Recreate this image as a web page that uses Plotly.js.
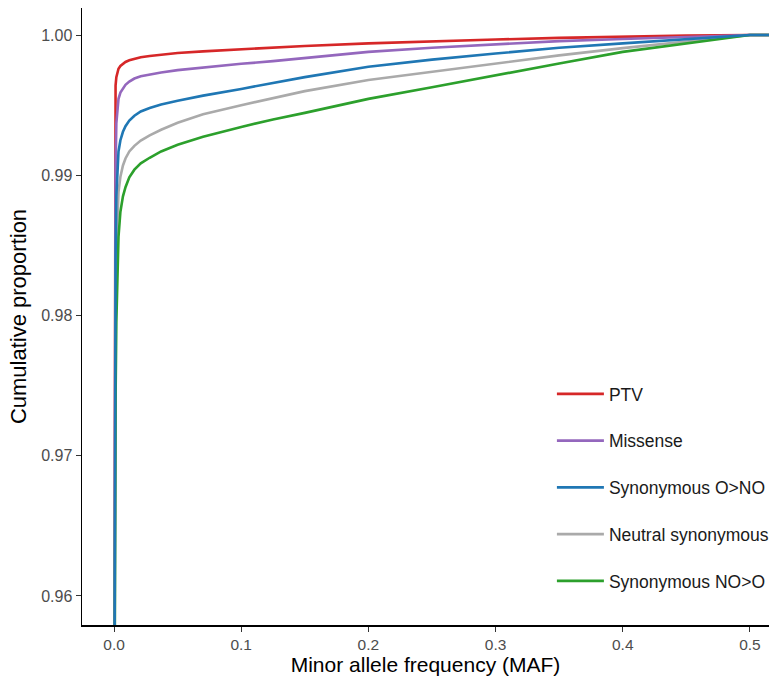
<!DOCTYPE html>
<html>
<head>
<meta charset="utf-8">
<script src="https://cdn.plot.ly/plotly-3.0.1.min.js"></script>
<style>html,body{margin:0;padding:0;background:#fff;}#chart{width:769px;height:676px;}</style>
</head>
<body>
<div id="chart"></div>
<script>
// Minor allele frequency grid (x) and cumulative proportions per class
const maf = [0, 0.0004, 0.0008, 0.0012, 0.0018, 0.0025, 0.0035, 0.005, 0.007, 0.009, 0.012, 0.016, 0.021, 0.028, 0.037, 0.05, 0.07, 0.1, 0.125, 0.15, 0.2, 0.25, 0.3, 0.35, 0.4, 0.45, 0.5, 0.56];

const seriesNames = ["PTV", "Missense", "Synonymous O>NO", "Neutral synonymous", "Synonymous NO>O"];
const seriesColors = ["#d62728", "#9467bd", "#1f77b4", "#aaaaaa", "#2ca02c"];

const ptv      = [0.94, 0.975, 0.9950, 0.99640, 0.99700, 0.99735, 0.99760, 0.99780, 0.99796, 0.99808, 0.99820, 0.99832, 0.99842, 0.99851, 0.99860, 0.99872, 0.99884, 0.99898, 0.99912, 0.99922, 0.99941, 0.99957, 0.99968, 0.99980, 0.99990, 0.99996, 1.0, 1.0];
const missense = [0.94, 0.965, 0.984, 0.9905, 0.99370, 0.99480, 0.99545, 0.99590, 0.99622, 0.99645, 0.99668, 0.99690, 0.99706, 0.99720, 0.99733, 0.99750, 0.99770, 0.99795, 0.99814, 0.99836, 0.99880, 0.99910, 0.99936, 0.99957, 0.99972, 0.99986, 1.0, 1.0];
const synONO   = [0.94, 0.962, 0.977, 0.9840, 0.98850, 0.99050, 0.99170, 0.99250, 0.99310, 0.99350, 0.99390, 0.99425, 0.99455, 0.99480, 0.99505, 0.99532, 0.99568, 0.99616, 0.99658, 0.99700, 0.99774, 0.99825, 0.99868, 0.99910, 0.99941, 0.99969, 1.0, 1.0];
const neutral  = [0.94, 0.958, 0.973, 0.9800, 0.98450, 0.98720, 0.98880, 0.98990, 0.99070, 0.99120, 0.99170, 0.99210, 0.99248, 0.99285, 0.99325, 0.99375, 0.99435, 0.99500, 0.99552, 0.99600, 0.99680, 0.99740, 0.99798, 0.99855, 0.99907, 0.99951, 1.0, 1.0];
const synNOO   = [0.94, 0.955, 0.966, 0.9740, 0.97950, 0.98300, 0.98560, 0.98740, 0.98850, 0.98915, 0.98985, 0.99040, 0.99085, 0.99125, 0.99170, 0.99218, 0.99275, 0.99345, 0.99398, 0.99445, 0.99545, 0.99628, 0.99710, 0.99797, 0.99880, 0.99940, 1.0, 1.0];

const seriesValues = [ptv, missense, synONO, neutral, synNOO];
const drawOrder = [0, 1, 3, 4, 2];

const traces = drawOrder.map(i => ({
  type: "scatter",
  mode: "lines",
  x: maf,
  y: seriesValues[i],
  name: seriesNames[i],
  legendgroup: "g" + i,
  legendrank: i + 1,
  line: {color: seriesColors[i], width: 2.6},
  hoverinfo: "skip"
}));

const layout = {
  width: 769, height: 676,
  margin: {l: 82, r: 0, t: 8, b: 51, autoexpand: false},
  paper_bgcolor: "#ffffff",
  plot_bgcolor: "#ffffff",
  font: {family: "Liberation Sans, Arial, sans-serif", color: "#1a1a1a"},
  showlegend: true,
  legend: {
    x: 0.684, y: 0.4036, xanchor: "left", yanchor: "top",
    bgcolor: "rgba(0,0,0,0)",
    font: {size: 17.5, color: "#1a1a1a"},
    tracegroupgap: 21,
    itemwidth: 47
  },
  xaxis: {
    range: [-0.0252, 0.515],
    tickvals: [0, 0.1, 0.2, 0.3, 0.4, 0.5],
    ticktext: ["0.0", "0.1", "0.2", "0.3", "0.4", "0.5"],
    showgrid: false, zeroline: false,
    showline: true, linecolor: "#000000", linewidth: 1.5,
    ticks: "outside", ticklen: 5, tickcolor: "#333333", tickwidth: 1,
    tickfont: {size: 15.5, color: "#4d4d4d"},
    title: {text: "Minor allele frequency (MAF)", font: {size: 21, color: "#000000"}, standoff: 4},
    automargin: false
  },
  yaxis: {
    range: [0.95793, 1.00193],
    tickvals: [0.96, 0.97, 0.98, 0.99, 1.0],
    ticktext: ["0.96", "0.97", "0.98", "0.99", "1.00"],
    showgrid: false, zeroline: false,
    showline: true, linecolor: "#000000", linewidth: 1.5,
    ticks: "outside", ticklen: 5, tickcolor: "#333333", tickwidth: 1,
    tickfont: {size: 16, color: "#4d4d4d"},
    title: {text: "Cumulative proportion", font: {size: 22, color: "#000000"}, standoff: 8},
    automargin: false
  }
};

Plotly.newPlot("chart", traces, layout, {displayModeBar: false, staticPlot: true});
</script>
</body>
</html>
